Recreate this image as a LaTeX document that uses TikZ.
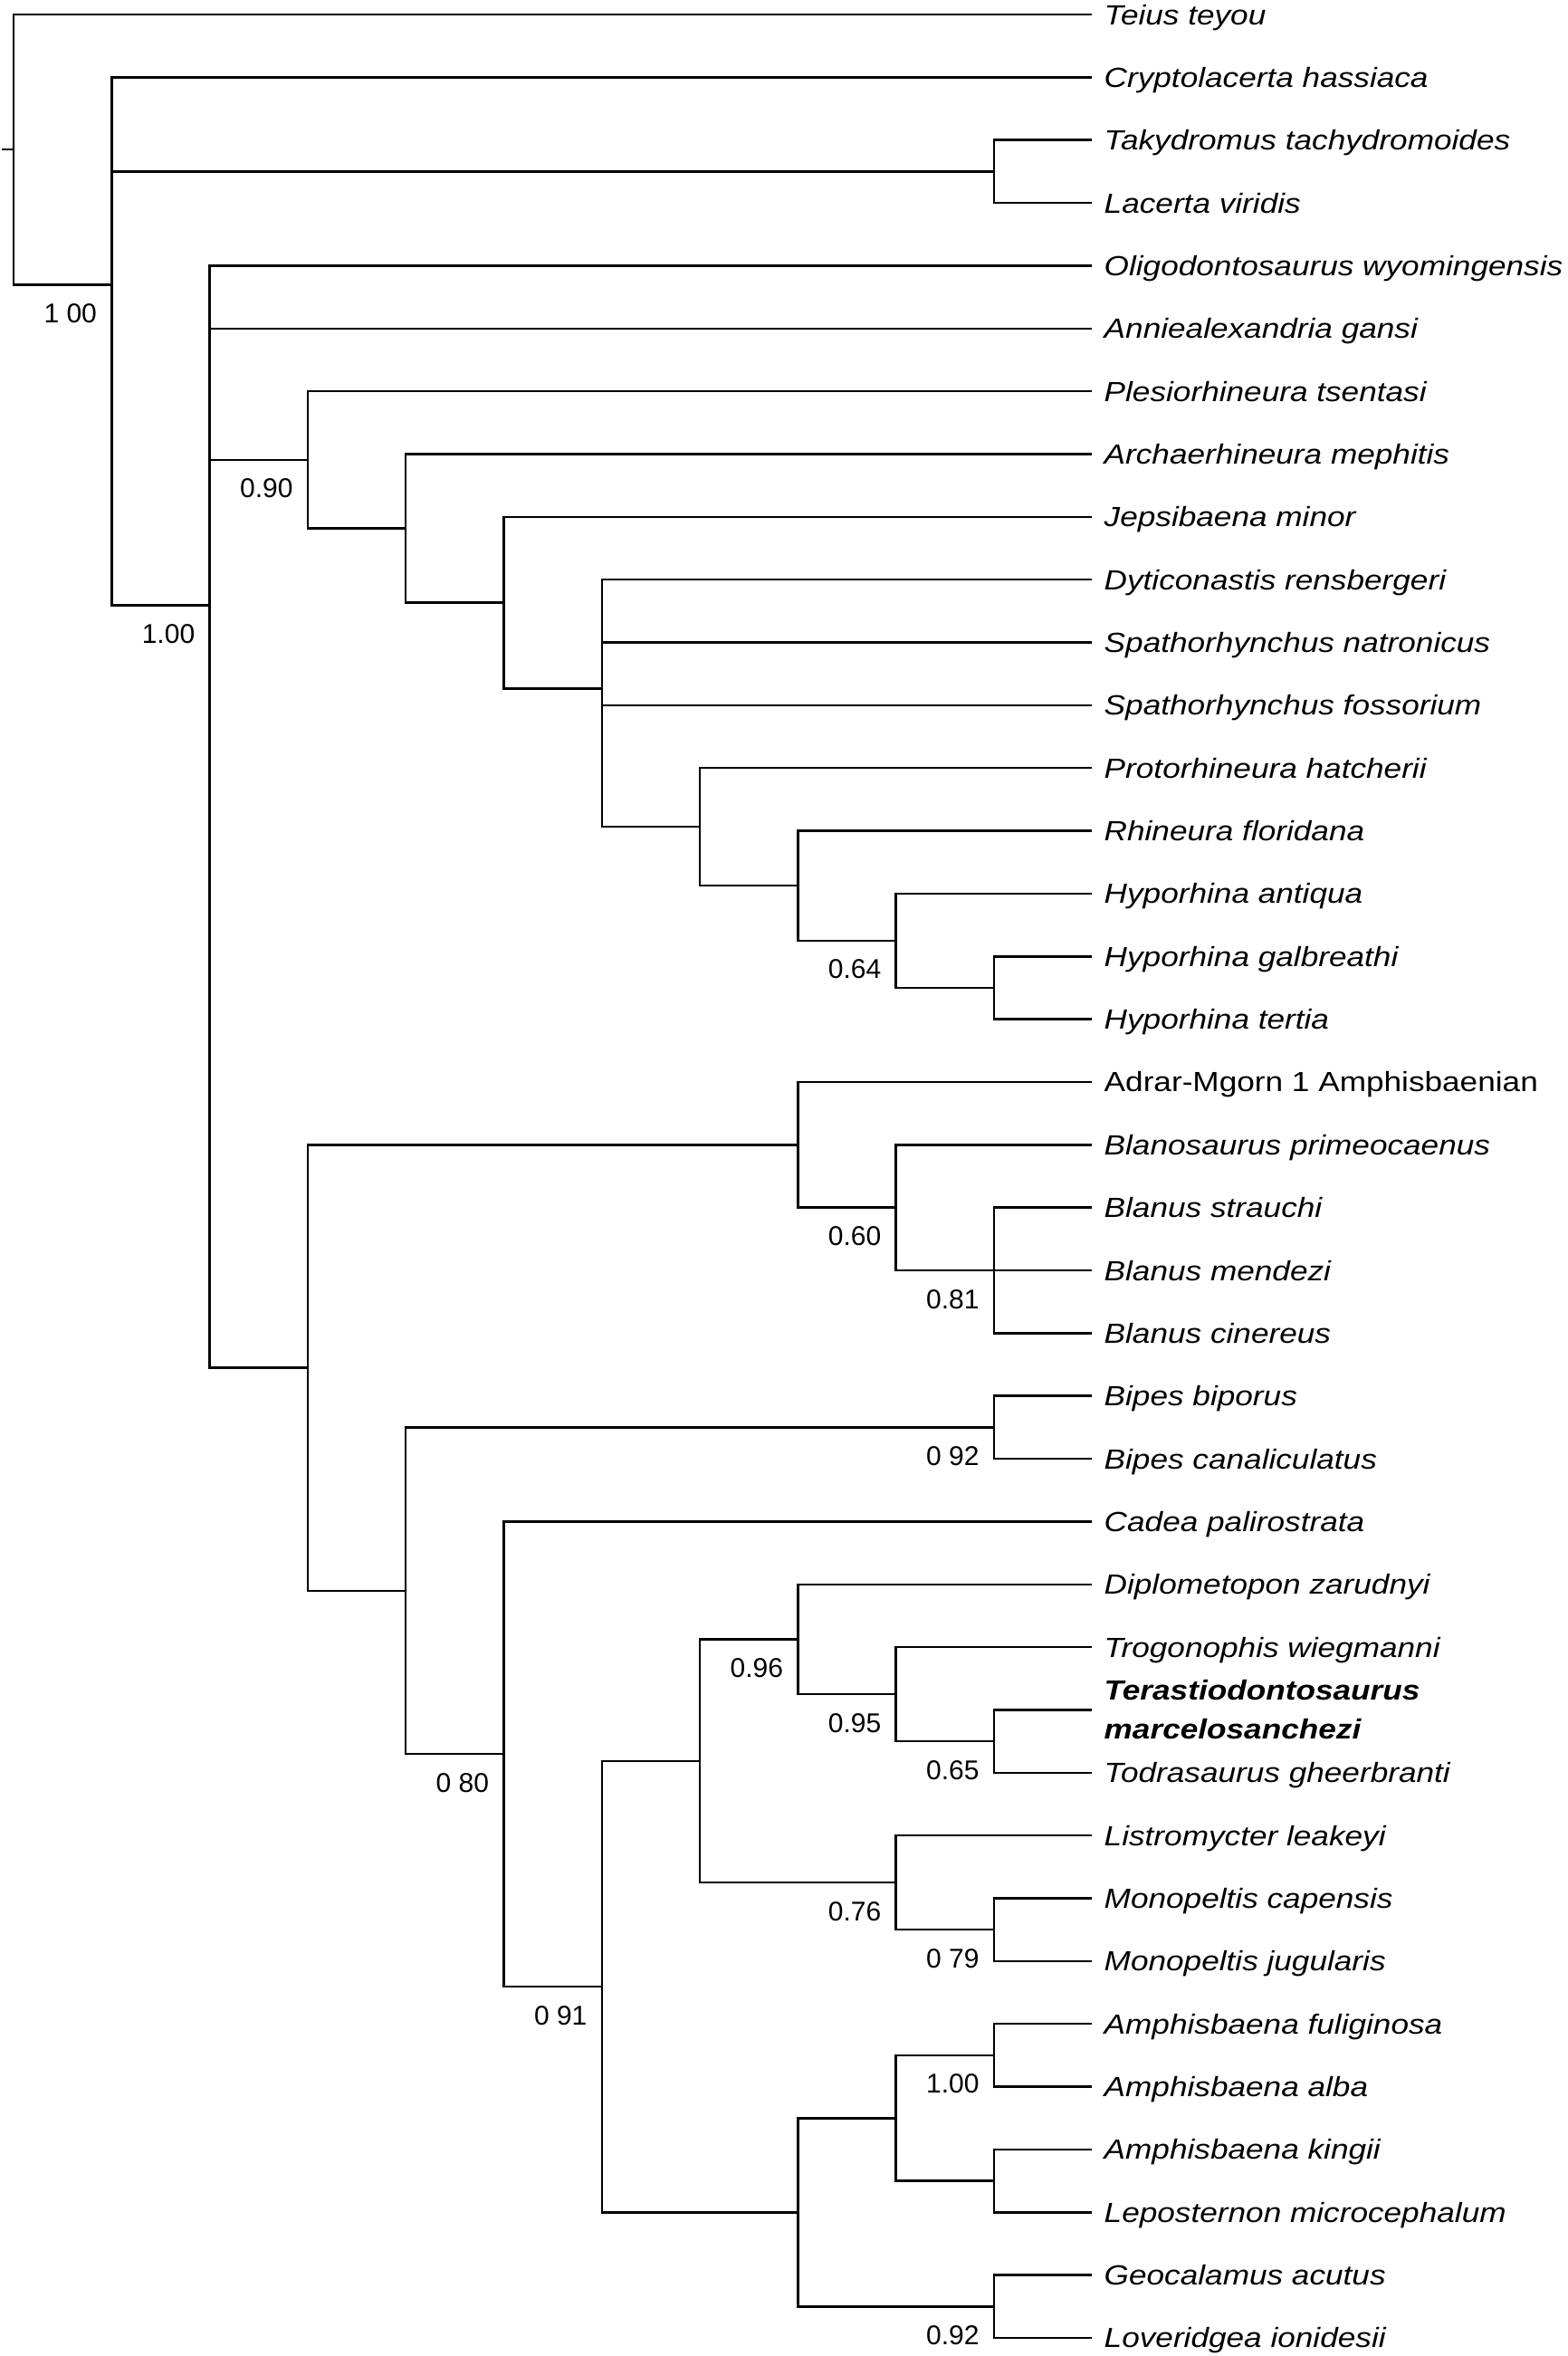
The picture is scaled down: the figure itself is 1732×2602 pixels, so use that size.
\documentclass[tikz,border=0pt]{standalone}
\usepackage{fontspec}
\newfontfamily\labfont[FakeStretch=1.15]{Liberation Sans}
\newfontfamily\numfont{Liberation Sans}
\tikzset{
  br/.style={line width=1.25pt, line join=miter, line cap=butt, black},
  lab/.style={font=\labfont\itshape\fontsize{15.3pt}{18pt}\selectfont, inner sep=0pt, anchor=base west},
  labup/.style={font=\labfont\fontsize{15.3pt}{18pt}\selectfont, inner sep=0pt, anchor=base west},
  labbf/.style={font=\labfont\bfseries\itshape\fontsize{15.3pt}{18pt}\selectfont, inner sep=0pt, anchor=base west},
  sup/.style={font=\numfont\fontsize{15pt}{18pt}\selectfont, inner sep=0pt, anchor=base east}
}
\newcommand\lfc[2]{\coordinate (L#1) at (1206.3,#2);}
\newcommand\lft[3][lab]{\node[#1] (T#2) at ([shift={(13,11)}]L#2) {#3};}
\newcommand\sv[2]{\node[sup] (S#1) at ([shift={(-16,42)}]#1) {#2};}
\newcommand\br[2]{\foreach \c in {#2} {\draw[br] (#1) |- (\c);}}
\begin{document}
\begin{tikzpicture}[x=0.5pt,y=-0.5pt]
\fill[white] (0,0) rectangle (1732,2602);
\useasboundingbox (0,0) rectangle (1732,2602);
% leaves
\lfc{1}{16}
\lfc{2}{85.35}
\lfc{3}{154.7}
\lfc{4}{224.05}
\lfc{5}{293.4}
\lfc{6}{362.75}
\lfc{7}{432.1}
\lfc{8}{501.45}
\lfc{9}{570.8}
\lfc{10}{640.15}
\lfc{11}{709.5}
\lfc{12}{778.85}
\lfc{13}{848.2}
\lfc{14}{917.55}
\lfc{15}{986.9}
\lfc{16}{1056.25}
\lfc{17}{1125.6}
\lfc{18}{1194.95}
\lfc{19}{1264.3}
\lfc{20}{1333.65}
\lfc{21}{1403}
\lfc{22}{1472.35}
\lfc{23}{1541.7}
\lfc{24}{1611.05}
\lfc{25}{1680.4}
\lfc{26}{1749.75}
\lfc{27}{1819.1}
\lfc{28}{1888.45}
\lfc{29}{1957.8}
\lfc{30}{2027.15}
\lfc{31}{2096.5}
\lfc{32}{2165.85}
\lfc{33}{2235.2}
\lfc{34}{2304.55}
\lfc{35}{2373.9}
\lfc{36}{2443.25}
\lfc{37}{2512.6}
\lfc{38}{2581.95}
% internal nodes
\coordinate (RS) at (2,165.225);
\coordinate (R) at (15,165.225);
\coordinate (A1) at (123.3,314.45);
\coordinate (TL) at (1098,189.375);
\coordinate (B1) at (231.6,668.6275);
\coordinate (RH) at (339.9,507.815);
\coordinate (RH2) at (448.2,583.53);
\coordinate (RH3) at (556.5,665.615);
\coordinate (RH4) at (664.8,760.43);
\coordinate (RH5) at (773.1,913.215);
\coordinate (RH6) at (881.4,978.23);
\coordinate (RH7) at (989.7,1038.9125);
\coordinate (RH8) at (1098,1090.925);
\coordinate (AM) at (339.9,1510.545);
\coordinate (BL1) at (881.4,1264.3);
\coordinate (BL2) at (989.7,1333.65);
\coordinate (BL3) at (1098,1403);
\coordinate (AM2) at (448.2,1756.79);
\coordinate (BI) at (1098,1576.375);
\coordinate (AM3) at (556.5,1937.21);
\coordinate (AM4) at (664.8,2194.023);
\coordinate (TR1) at (773.1,1944.796);
\coordinate (TR2) at (881.4,1810.43);
\coordinate (TR3) at (989.7,1871.1125);
\coordinate (TR4) at (1098,1923.125);
\coordinate (MO1) at (989.7,2079.1625);
\coordinate (MO2) at (1098,2131.175);
\coordinate (AP1) at (881.4,2443.25);
\coordinate (AP2) at (989.7,2339.225);
\coordinate (AP3) at (1098,2269.875);
\coordinate (AP4) at (1098,2408.575);
\coordinate (GL) at (1098,2547.275);
% branches
\draw[br] (RS) -- (R);
\br{R}{L1,A1}
\br{A1}{L2,TL,B1}
\br{TL}{L3,L4}
\br{B1}{L5,L6,RH,AM}
\br{RH}{L7,RH2}
\br{RH2}{L8,RH3}
\br{RH3}{L9,RH4}
\br{RH4}{L10,L11,L12,RH5}
\br{RH5}{L13,RH6}
\br{RH6}{L14,RH7}
\br{RH7}{L15,RH8}
\br{RH8}{L16,L17}
\br{AM}{BL1,AM2}
\br{BL1}{L18,BL2}
\br{BL2}{L19,BL3}
\br{BL3}{L20,L21,L22}
\br{AM2}{BI,AM3}
\br{BI}{L23,L24}
\br{AM3}{L25,AM4}
\br{AM4}{TR1,AP1}
\br{TR1}{TR2,MO1}
\br{TR2}{L26,TR3}
\br{TR3}{L27,TR4}
\br{TR4}{L28,L29}
\br{MO1}{L30,MO2}
\br{MO2}{L31,L32}
\br{AP1}{AP2,GL}
\br{AP2}{AP3,AP4}
\br{AP3}{L33,L34}
\br{AP4}{L35,L36}
\br{GL}{L37,L38}
% leaf labels
\lft{1}{Teius teyou}
\lft{2}{Cryptolacerta hassiaca}
\lft{3}{Takydromus tachydromoides}
\lft{4}{Lacerta viridis}
\lft{5}{Oligodontosaurus wyomingensis}
\lft{6}{Anniealexandria gansi}
\lft{7}{Plesiorhineura tsentasi}
\lft{8}{Archaerhineura mephitis}
\lft{9}{Jepsibaena minor}
\lft{10}{Dyticonastis rensbergeri}
\lft{11}{Spathorhynchus natronicus}
\lft{12}{Spathorhynchus fossorium}
\lft{13}{Protorhineura hatcherii}
\lft{14}{Rhineura floridana}
\lft{15}{Hyporhina antiqua}
\lft{16}{Hyporhina galbreathi}
\lft{17}{Hyporhina tertia}
\lft[labup]{18}{Adrar-Mgorn 1 Amphisbaenian}
\lft{19}{Blanosaurus primeocaenus}
\lft{20}{Blanus strauchi}
\lft{21}{Blanus mendezi}
\lft{22}{Blanus cinereus}
\lft{23}{Bipes biporus}
\lft{24}{Bipes canaliculatus}
\lft{25}{Cadea palirostrata}
\lft{26}{Diplometopon zarudnyi}
\lft{27}{Trogonophis wiegmanni}
\node[labbf] (T28a) at ([shift={(13,-11)}]L28) {Terastiodontosaurus};
\node[labbf] (T28b) at ([shift={(13,32)}]L28) {marcelosanchezi};
\lft{29}{Todrasaurus gheerbranti}
\lft{30}{Listromycter leakeyi}
\lft{31}{Monopeltis capensis}
\lft{32}{Monopeltis jugularis}
\lft{33}{Amphisbaena fuliginosa}
\lft{34}{Amphisbaena alba}
\lft{35}{Amphisbaena kingii}
\lft{36}{Leposternon microcephalum}
\lft{37}{Geocalamus acutus}
\lft{38}{Loveridgea ionidesii}
% support values
\sv{A1}{1 00}
\sv{B1}{1.00}
\sv{RH}{0.90}
\sv{RH7}{0.64}
\sv{BL2}{0.60}
\sv{BL3}{0.81}
\sv{BI}{0 92}
\sv{AM3}{0 80}
\sv{AM4}{0 91}
\sv{TR2}{0.96}
\sv{TR3}{0.95}
\sv{TR4}{0.65}
\sv{MO1}{0.76}
\sv{MO2}{0 79}
\sv{AP3}{1.00}
\sv{GL}{0.92}
\end{tikzpicture}
\end{document}
